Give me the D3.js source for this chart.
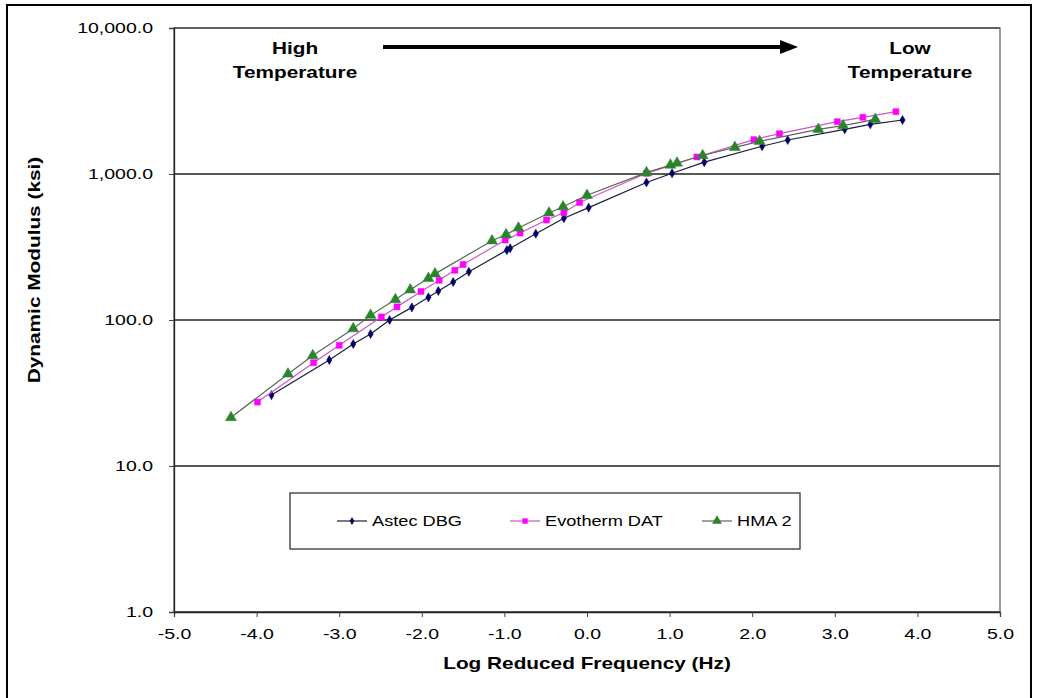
<!DOCTYPE html>
<html>
<head>
<meta charset="utf-8">
<script src="https://cdn.jsdelivr.net/npm/d3@7/dist/d3.min.js"></script>
<style>
    body { margin: 0; background: #fff; }
    svg text { font-family: "Liberation Sans", Arial, sans-serif; fill: #000; }
</style>
</head>
<body>
<div id="chart"></div>
<script>
///// DATOS //////
let astecFreq = [-3.82, -3.12, -2.83, -2.62, -2.39, -2.12, -1.92, -1.80, -1.62, -1.43, -0.97, -0.93, -0.62, -0.28, 0.02, 0.72, 1.03, 1.42, 2.12, 2.43, 3.12, 3.43, 3.82];
let astecMod  = [30.6, 53.2, 68.5, 80.2, 100, 122, 143, 158, 182, 214, 301, 310, 390, 498, 588, 875, 1011, 1205, 1549, 1709, 2024, 2190, 2344];

let evoFreq = [-3.99, -3.31, -3.00, -2.49, -2.30, -2.01, -1.79, -1.60, -1.50, -0.99, -0.81, -0.49, -0.28, -0.09, 0.72, 1.33, 2.02, 2.33, 3.03, 3.34, 3.74];
let evoMod  = [27.4, 51, 67.1, 105, 123, 157, 187, 219, 240, 353, 394, 484, 543, 638, 1011, 1308, 1720, 1888, 2282, 2446, 2672];

let hmaFreq = [-4.31, -3.62, -3.32, -2.83, -2.62, -2.32, -2.14, -1.92, -1.84, -1.15, -0.98, -0.83, -0.46, -0.29, 0.00, 0.72, 1.01, 1.09, 1.40, 1.79, 2.09, 2.80, 3.10, 3.49];
let hmaMod  = [21.5, 42.7, 57.1, 87.2, 108, 138, 161, 193, 207, 349, 385, 427, 541, 597, 715, 1021, 1152, 1190, 1339, 1523, 1674, 2024, 2142, 2370];

let seriesNames = ['Astec DBG', 'Evotherm DAT', 'HMA 2'];
let xTicks = [-5, -4, -3, -2, -1, 0, 1, 2, 3, 4, 5];
let yTicks = [1, 10, 100, 1000, 10000];

let series = [
    {name: seriesNames[0], freq: astecFreq, mod: astecMod, line: '#1c1c3c', fill: '#000066', symbol: d3.symbolDiamond, size: 24},
    {name: seriesNames[1], freq: evoFreq, mod: evoMod, line: '#cc55cc', fill: '#ff00ff', symbol: d3.symbolSquare, size: 36},
    {name: seriesNames[2], freq: hmaFreq, mod: hmaMod, line: '#5a665a', fill: '#2a852a', symbol: d3.symbolTriangle, size: 52}
];

///// GRÁFICO //////
let W = 1037, H = 698;
let plot = {left: 174, right: 1000, top: 28, bottom: 612};
let sx = 1.3; //estiramiento horizontal del texto

let svg = d3.select('#chart').append('svg')
    .attr('width', W)
    .attr('height', H);

//Marco exterior
svg.append('rect')
    .attr('x', 7).attr('y', 5)
    .attr('width', 1024).attr('height', 700)
    .attr('fill', 'none')
    .attr('stroke', '#000')
    .attr('stroke-width', 2);

let x = d3.scaleLinear()
    .domain([-5, 5])
    .range([plot.left, plot.right]);

let y = d3.scaleLog()
    .domain([1, 10000])
    .range([plot.bottom, plot.top]);

//Rejilla horizontal
svg.append('g')
    .selectAll('line')
    .data(yTicks)
    .join('line')
    .attr('x1', plot.left)
    .attr('x2', plot.right)
    .attr('y1', d => y(d))
    .attr('y2', d => y(d))
    .attr('stroke', '#222')
    .attr('stroke-width', 1.3);

//Borde del área de trazado
svg.append('rect')
    .attr('x', plot.left).attr('y', plot.top)
    .attr('width', plot.right - plot.left).attr('height', plot.bottom - plot.top)
    .attr('fill', 'none')
    .attr('stroke', '#666')
    .attr('stroke-width', 1.3);

//Eje X
let xAxis = svg.append('g')
    .attr('transform', 'translate(0,' + plot.bottom + ')')
    .call(d3.axisBottom(x).tickValues(xTicks).tickSize(5).tickPadding(11).tickFormat(d3.format('.1f')));
xAxis.select('.domain').attr('stroke', '#222').attr('stroke-width', 1.3);
xAxis.selectAll('.tick line').attr('stroke', '#444');
xAxis.selectAll('.tick text')
    .attr('font-size', 15)
    .attr('transform', 'scale(' + sx + ',1)')
    .text(d => d3.format('.1f')(d).replace('−', '-'));

//Eje Y
let yAxis = svg.append('g')
    .attr('transform', 'translate(' + plot.left + ',0)')
    .call(d3.axisLeft(y).tickValues(yTicks).tickSize(5).tickFormat(d3.format(',.1f')));
yAxis.select('.domain').attr('stroke', '#222').attr('stroke-width', 1.3);
yAxis.selectAll('.tick line').attr('stroke', '#444');
yAxis.selectAll('.tick text')
    .attr('font-size', 15)
    .attr('x', -21 / sx)
    .attr('transform', 'scale(' + sx + ',1)');

//Títulos de ejes
svg.append('text')
    .attr('transform', 'translate(587,669) scale(' + sx + ',1)')
    .attr('text-anchor', 'middle')
    .attr('font-weight', 'bold')
    .attr('font-size', 16)
    .text('Log Reduced Frequency (Hz)');

svg.append('text')
    .attr('transform', 'translate(40,270) rotate(-90) scale(' + sx + ',1)')
    .attr('text-anchor', 'middle')
    .attr('font-weight', 'bold')
    .attr('font-size', 16)
    .text('Dynamic Modulus (ksi)');

//Series
let line = d3.line()
    .x(d => x(d[0]))
    .y(d => y(d[1]));

series.forEach(function(s) {
    let pts = s.freq.map((f, i) => [f, s.mod[i]]);
    let g = svg.append('g');
    g.append('path')
        .datum(pts)
        .attr('fill', 'none')
        .attr('stroke', s.line)
        .attr('stroke-width', 1.2)
        .attr('d', line);
    g.selectAll('path.mk')
        .data(pts)
        .join('path')
        .attr('class', 'mk')
        .attr('transform', d => 'translate(' + x(d[0]) + ',' + y(d[1]) + ')')
        .attr('d', d3.symbol().type(s.symbol).size(s.size))
        .attr('fill', s.fill)
        .attr('stroke', s.fill)
        .attr('stroke-width', 0.5);
});

//Anotaciones de temperatura
function twoLines(cx, txt) {
    txt.forEach(function(t, i) {
        svg.append('text')
            .attr('transform', 'translate(' + cx + ',' + (54 + i * 24) + ') scale(' + sx + ',1)')
            .attr('text-anchor', 'middle')
            .attr('font-weight', 'bold')
            .attr('font-size', 16)
            .text(t);
    });
}
twoLines(295, ['High', 'Temperature']);
twoLines(910, ['Low', 'Temperature']);

//Flecha
svg.append('line')
    .attr('x1', 383).attr('x2', 782)
    .attr('y1', 47).attr('y2', 47)
    .attr('stroke', '#000')
    .attr('stroke-width', 4);
svg.append('path')
    .attr('d', 'M780,40 L798,47 L780,54 Z')
    .attr('fill', '#000');

//Leyenda
let legend = svg.append('g');
legend.append('rect')
    .attr('x', 290).attr('y', 493)
    .attr('width', 510).attr('height', 56)
    .attr('fill', '#fff')
    .attr('stroke', '#333')
    .attr('stroke-width', 1.3);

let legendX = [337, 510, 702];
series.forEach(function(s, i) {
    let lx = legendX[i];
    legend.append('line')
        .attr('x1', lx).attr('x2', lx + 30)
        .attr('y1', 521).attr('y2', 521)
        .attr('stroke', s.line)
        .attr('stroke-width', 1.2);
    legend.append('path')
        .attr('transform', 'translate(' + (lx + 15) + ',521)')
        .attr('d', d3.symbol().type(s.symbol).size(s.size * 0.8))
        .attr('fill', s.fill);
    legend.append('text')
        .attr('transform', 'translate(' + (lx + 35) + ',526) scale(' + sx + ',1)')
        .attr('font-size', 14)
        .text(s.name);
});
</script>
</body>
</html>
